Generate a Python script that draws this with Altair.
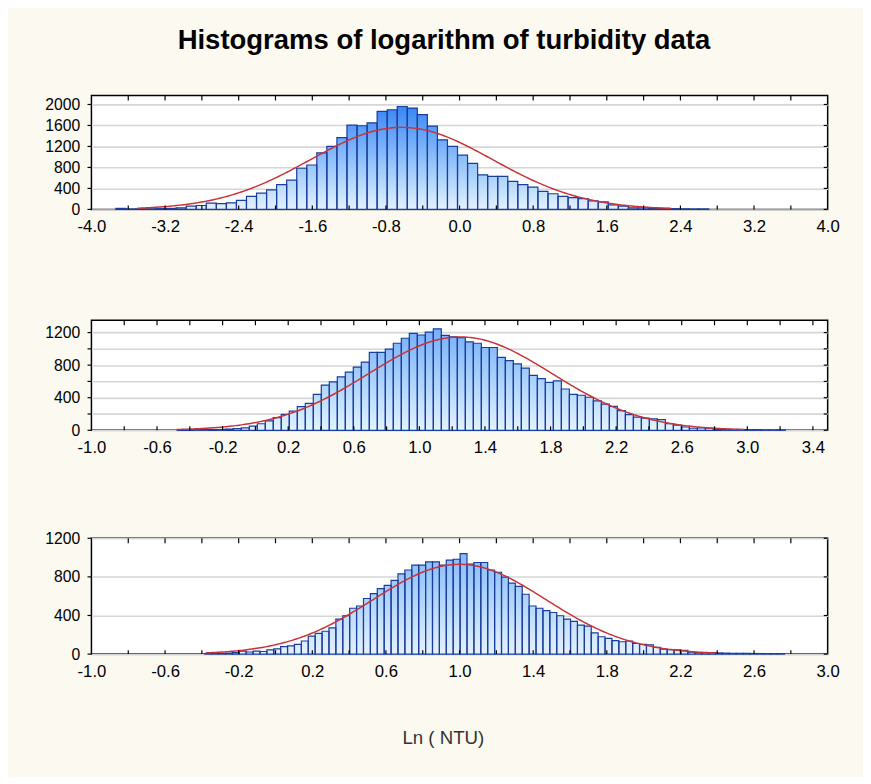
import altair as alt
import numpy as np
import pandas as pd

TITLE = "Histograms of logarithm of turbidity data"
X_TITLE = "Ln ( NTU)"

# ---------------- panel 1 ----------------
P1_BIN_START = -3.735
P1_BIN_WIDTH = 0.1092
P1_COUNTS = [20, 10, 10, 10, 15, 20, 30, 62, 75, 120, 112, 125, 174, 249, 311, 374, 473, 560, 785, 847, 1078,
             1202, 1370, 1607, 1595, 1651, 1869, 1900, 1962, 1931, 1807, 1589, 1327, 1202, 1034, 878, 660, 629,
             629, 536, 473, 424, 343, 299, 249, 225,
             205, 162, 143, 87, 62, 31, 30, 25, 20, 15, 12, 10, 10]
P1_FIT = {"mean": -0.63, "sd": 0.99, "peak": 1564, "x_from": -3.5, "x_to": 2.3}
P1_X_DOMAIN = [-4.0, 4.0]
P1_X_LABELS = [-4.0, -3.2, -2.4, -1.6, -0.8, 0.0, 0.8, 1.6, 2.4, 3.2, 4.0]
P1_X_TICKS = [-3.6, -3.2, -2.8, -2.4, -2.0, -1.6, -1.2, -0.8, -0.4, 0.0, 0.4, 0.8, 1.2, 1.6, 2.0, 2.4, 2.8, 3.2, 3.6]
P1_Y_MAX = 2170
P1_Y_GRID = [0, 400, 800, 1200, 1600, 2000]
P1_Y_LABEL_STEP = 400

# ---------------- panel 2 ----------------
P2_BIN_START = -0.4766
P2_BIN_WIDTH = 0.0488
P2_COUNTS = [5, 5, 8, 8, 10, 10, 15, 20, 30, 52, 80, 115, 155, 195, 235, 290, 330,
             440, 555, 595, 655, 715, 776, 836, 957, 957, 997, 1069, 1130, 1190, 1170, 1206,
             1246, 1166, 1146, 1138, 1085, 1069, 1017, 1017, 896, 856, 816, 764, 675, 635, 587, 607, 507,
             442, 430, 406, 362, 322, 293, 241, 193, 161, 150, 141, 130, 80, 64, 40, 25, 30, 25, 15, 12,
             10, 10, 8, 8, 5, 5, 5]
P2_FIT = {"mean": 1.25, "sd": 0.56, "peak": 1146, "x_from": -0.48, "x_to": 2.98}
P2_X_DOMAIN = [-1.0, 3.49]
P2_X_LABELS = [-1.0, -0.6, -0.2, 0.2, 0.6, 1.0, 1.4, 1.8, 2.2, 2.6, 3.0, 3.4]
P2_X_TICKS = [-0.8, -0.6, -0.4, -0.2, 0.0, 0.2, 0.4, 0.6, 0.8, 1.0, 1.2, 1.4, 1.6, 1.8, 2.0, 2.2, 2.4, 2.6,
              2.8, 3.0, 3.2, 3.4]
P2_Y_MAX = 1350
P2_Y_GRID = [0, 200, 400, 600, 800, 1000, 1200]
P2_Y_LABEL_STEP = 400

# ---------------- panel 3 ----------------
P3_BIN_START = -0.3845
P3_BIN_WIDTH = 0.0375
P3_COUNTS = [5, 8, 8, 10, 15, 30, 22, 30, 27, 44, 55, 78, 85, 100, 136, 186,
             214, 237, 271, 363, 397, 475, 498, 576, 627, 678, 712, 763, 831, 871, 922, 922, 956, 956, 922,
             973, 983,
             1041, 932, 949, 949, 871, 848, 797, 736, 702, 620, 498, 475, 451, 431, 397, 363, 339,
             300, 290, 220, 180, 163, 140, 128, 136, 110, 100, 95, 70, 52, 45, 45, 40, 20, 15, 15, 15, 12,
             10, 8, 8, 8, 6, 6, 5, 5, 5]
P3_FIT = {"mean": 1.0, "sd": 0.47, "peak": 930, "x_from": -0.38, "x_to": 2.4}
P3_X_DOMAIN = [-1.0, 3.0]
P3_X_LABELS = [-1.0, -0.6, -0.2, 0.2, 0.6, 1.0, 1.4, 1.8, 2.2, 2.6, 3.0]
P3_X_TICKS = [-0.8, -0.6, -0.4, -0.2, 0.0, 0.2, 0.4, 0.6, 0.8, 1.0, 1.2, 1.4, 1.6, 1.8, 2.0, 2.2, 2.4, 2.6, 2.8]
P3_Y_MAX = 1200
P3_Y_GRID = [0, 400, 800, 1200]
P3_Y_LABEL_STEP = 400

PLOT_W = 750
FONT = "Liberation Sans"
BAR_LIGHT = "#e4f2ff"
BAR_DARK = "#1a7af2"
BAR_EDGE = "#1a3c9c"
FIT_COLOR = "#c8333a"
GRID_COLOR = "#d6d6d6"
BG = "#fcf9f1"


def panel(counts, start, width, fit, xdom, xlabels, xticks, ymax, ygrid, ystep,
          height, x_extent, x_title=None, title_pad=0):
    n = len(counts)
    lefts = [start + i * width for i in range(n)]
    bars = pd.DataFrame({"x0": lefts, "x1": [l + width for l in lefts], "top": counts, "base": 0})

    # vertical colour bands (gradient relative to the plot height)
    step = ymax / 60.0
    segs = []
    for l, c in zip(lefts, counts):
        j = 1
        while True:
            top = min(j * step, c)
            segs.append({"x0": l, "x1": l + width, "top": top, "base": 0, "level": top - step / 2})
            if top >= c:
                break
            j += 1
    segs = pd.DataFrame(segs).sort_values("top", ascending=False)

    xs = np.linspace(fit["x_from"], fit["x_to"], 300)
    curve = pd.DataFrame({"x0": xs,
                          "top": fit["peak"] * np.exp(-((xs - fit["mean"]) ** 2) / (2 * fit["sd"] ** 2))})

    xscale = alt.Scale(domain=xdom, nice=False, zero=False)
    yscale = alt.Scale(domain=[0, ymax], nice=False, zero=True)

    xaxis_kw = dict(values=xlabels, tickCount=40,
                    labelExpr="replace(format(datum.value, '.1f'), '\u2212', '-')",
                    ticks=False, domain=False, grid=False, labelPadding=10, labelFontSize=17,
                    labelFlush=False, labelOverlap=False,
                    minExtent=x_extent, maxExtent=x_extent)
    if x_title:
        xaxis = alt.Axis(title=x_title, titlePadding=title_pad, titleFontSize=19,
                         titleFontWeight="normal", titleColor="#333333", titleX=358, **xaxis_kw)
    else:
        xaxis = alt.Axis(title=None, **xaxis_kw)

    yaxis = alt.Axis(values=ygrid, tickCount=40, title=None, ticks=False, domain=False, grid=True,
                     gridColor=GRID_COLOR, gridWidth=1.6, labelOverlap=False, labelFontSize=16,
                     labelExpr=f"datum.value % {ystep} == 0 ? format(datum.value, 'd') : ''",
                     labelPadding=12, minExtent=46, maxExtent=46)

    base = alt.Chart(segs).mark_rect().encode(
        x=alt.X("x0:Q", scale=xscale, axis=xaxis),
        x2="x1:Q",
        y=alt.Y("top:Q", scale=yscale, axis=yaxis),
        y2="base:Q",
        color=alt.Color("level:Q", scale=alt.Scale(domain=[0, ymax], range=[BAR_LIGHT, BAR_DARK]),
                        legend=None),
    )
    edge_layer = alt.Chart(bars).mark_rect(fillOpacity=0, stroke=BAR_EDGE, strokeWidth=1.2).encode(
        x=alt.X("x0:Q", scale=xscale),
        x2="x1:Q",
        y=alt.Y("top:Q", scale=yscale),
        y2="base:Q",
    )
    fit_layer = alt.Chart(curve).mark_line(color=FIT_COLOR, strokeWidth=1.5).encode(
        x=alt.X("x0:Q", scale=xscale),
        y=alt.Y("top:Q", scale=yscale),
    )
    xt = pd.DataFrame({"x0": xticks})
    yt = pd.DataFrame({"top": ygrid})
    tick_bot = alt.Chart(xt).mark_rule(color="black", strokeWidth=1.2).encode(
        x=alt.X("x0:Q", scale=xscale), y=alt.value(height), y2=alt.value(height - 4))
    tick_top = alt.Chart(xt).mark_rule(color="black", strokeWidth=1.2).encode(
        x=alt.X("x0:Q", scale=xscale), y=alt.value(0), y2=alt.value(5))
    tick_l = alt.Chart(yt).mark_rule(color="black", strokeWidth=1.2).encode(
        y=alt.Y("top:Q", scale=yscale), x=alt.value(-4), x2=alt.value(0))
    tick_r = alt.Chart(yt).mark_rule(color="black", strokeWidth=1.2).encode(
        y=alt.Y("top:Q", scale=yscale), x=alt.value(PLOT_W - 4), x2=alt.value(PLOT_W))

    return alt.layer(base, edge_layer, fit_layer, tick_bot, tick_top, tick_l, tick_r).properties(
        width=PLOT_W, height=height)


p1 = panel(P1_COUNTS, P1_BIN_START, P1_BIN_WIDTH, P1_FIT, P1_X_DOMAIN, P1_X_LABELS, P1_X_TICKS,
           P1_Y_MAX, P1_Y_GRID, P1_Y_LABEL_STEP, 116, 36)
p2 = panel(P2_COUNTS, P2_BIN_START, P2_BIN_WIDTH, P2_FIT, P2_X_DOMAIN, P2_X_LABELS, P2_X_TICKS,
           P2_Y_MAX, P2_Y_GRID, P2_Y_LABEL_STEP, 112, 22)
p3 = panel(P3_COUNTS, P3_BIN_START, P3_BIN_WIDTH, P3_FIT, P3_X_DOMAIN, P3_X_LABELS, P3_X_TICKS,
           P3_Y_MAX, P3_Y_GRID, P3_Y_LABEL_STEP, 118, 30, x_title=X_TITLE, title_pad=46)

chart = alt.concat(p1, p2, p3, columns=1, spacing=74, align="none").properties(
    title=alt.TitleParams(TITLE, fontSize=28, fontWeight="bold", font=FONT, color="black",
                          anchor="middle", offset=40, dx=2),
    background=BG,
    padding={"left": 36, "top": 12, "right": 23, "bottom": 22},
).configure_view(
    stroke="black", strokeWidth=1.5, fill="white"
).configure_axis(
    labelFont=FONT, labelColor="black", titleFont=FONT
)

chart.save("out.html", embed_options={"renderer": "svg", "actions": False})
